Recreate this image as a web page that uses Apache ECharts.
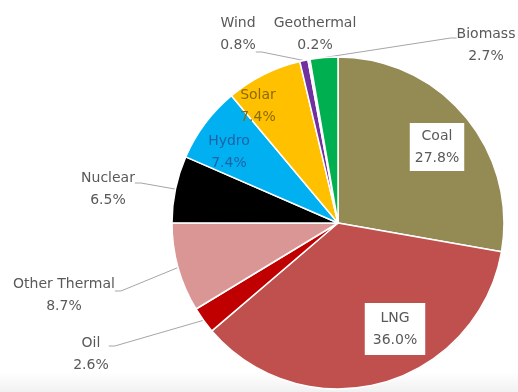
<!DOCTYPE html>
<html><head><meta charset="utf-8">
<script src="https://cdn.jsdelivr.net/npm/echarts@6/dist/echarts.min.js"></script>
<style>html,body{margin:0;padding:0;background:#fff}#c{width:518px;height:392px}</style>
</head><body><div id="c"></div>
<script>
const categories = ['Coal','LNG','Oil','Other Thermal','Nuclear','Hydro','Solar','Wind','Geothermal','Biomass'];
const shares = [27.8, 36.0, 2.6, 8.7, 6.5, 7.4, 7.4, 0.8, 0.2, 2.7];
const colors = ['#948A54','#C0504D','#C00000','#D99694','#000000','#00B0F0','#FFC000','#7030A0','#EDEDED','#00B050'];
const insideLabels = ['Coal','LNG','Hydro','Solar'];
const boxedLabels = ['Coal','LNG'];
const labelTextColors = {Hydro:'#1F62A8', Solar:'#8C6A00'};
// label placement: [centerX, centerY, leader side, leader y offset]
const labelPlace = [
  [437,147,null,0],
  [395,329,null,0],
  [91,354,'right',-8],
  [64,295,'right',-4],
  [108,189,'right',-6],
  [229,152,null,0],
  [258,106,null,0],
  [238,34,'right',18],
  [315,34,null,0],
  [486,45,'left',-7]
];

const chart = echarts.init(document.getElementById('c'), null, {renderer:'canvas'});
const data = categories.map((name, i) => {
  const inside = insideLabels.includes(name);
  const boxed = boxedLabels.includes(name);
  const item = {
    name, value: shares[i],
    itemStyle: {color: colors[i]},
    label: {
      position: inside ? 'inside' : 'outside',
      color: labelTextColors[name] || '#595959'
    },
    labelLine: {show: !inside && name !== 'Geothermal'}
  };
  if (boxed) {
    item.label.backgroundColor = '#ffffff';
    item.label.padding = name === 'LNG' ? [4, 8] : [2, 5];
  }
  return item;
});

chart.setOption({
  animation: false,
  backgroundColor: '#ffffff',
  graphic: [{
    type: 'rect', z: 0,
    shape: {x: 0, y: 372, width: 518, height: 20},
    style: {fill: new echarts.graphic.LinearGradient(0,0,0,1,[{offset:0,color:'#ffffff'},{offset:1,color:'#f1f1f1'}])}
  }],
  series: [{
    type: 'pie',
    z: 2,
    center: [338, 223],
    radius: 166,
    startAngle: 90,
    clockwise: true,
    avoidLabelOverlap: false,
    minShowLabelAngle: 0,
    itemStyle: {borderColor: '#ffffff', borderWidth: 1.5},
    label: {
      show: true,
      fontFamily: 'DejaVu Sans',
      fontSize: 14,
      lineHeight: 22,
      color: '#595959',
      formatter: p => p.name + '\n' + p.value.toFixed(1) + '%'
    },
    labelLine: {show: true, length: 10, length2: 10, lineStyle: {color: '#A6A6A6', width: 1}},
    labelLayout: function (p) {
      const lp = labelPlace[p.dataIndex];
      const out = {x: lp[0], y: lp[1], align: 'center', verticalAlign: 'middle'};
      if (lp[2] && p.labelLinePoints) {
        const w = p.labelRect.width;
        const ex = lp[2] === 'right' ? lp[0] + w / 2 : lp[0] - w / 2;
        const ey = lp[1] + lp[3];
        const s = p.labelLinePoints[0];
        out.labelLinePoints = [[s[0], s[1]], [ex + (lp[2] === 'right' ? 6 : -6), ey], [ex, ey]];
      }
      return out;
    },
    data: data
  }]
});
</script>
</body></html>
